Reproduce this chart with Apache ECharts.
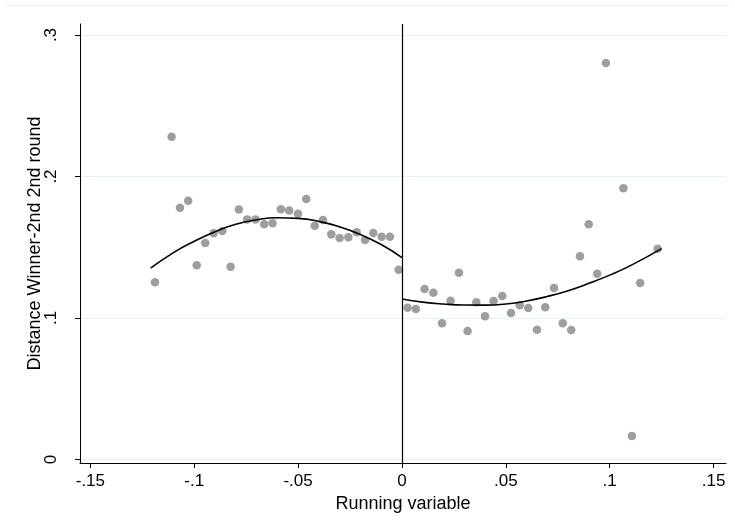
<!DOCTYPE html>
<html>
<head>
<meta charset="utf-8">
<script src="https://cdn.jsdelivr.net/npm/echarts@6/dist/echarts.min.js"></script>
<style>
html,body{margin:0;padding:0;background:#fff;}
#chart{width:735px;height:520px;}
</style>
</head>
<body>
<div id="chart"></div>
<script>
// Binned scatter, left of cutoff
const leftX = [-0.1189, -0.1109, -0.1069, -0.1029, -0.0988, -0.0947, -0.0907, -0.0865, -0.0825, -0.0785, -0.0745, -0.0705, -0.0663, -0.0623, -0.0583, -0.0543, -0.0501, -0.0461, -0.0420, -0.0380, -0.0340, -0.0300, -0.0258, -0.0218, -0.0178, -0.0138, -0.0098, -0.0058, -0.0016];
const leftY = [0.1252, 0.2281, 0.1780, 0.1829, 0.1372, 0.1530, 0.1599, 0.1615, 0.1363, 0.1766, 0.1697, 0.1697, 0.1662, 0.1669, 0.1768, 0.1759, 0.1737, 0.1841, 0.1652, 0.1693, 0.1591, 0.1565, 0.1570, 0.1606, 0.1551, 0.1601, 0.1575, 0.1575, 0.1341];
// Binned scatter, right of cutoff
const rightX = [0.0027, 0.0067, 0.0109, 0.0151, 0.0193, 0.0234, 0.0274, 0.0316, 0.0358, 0.0400, 0.0441, 0.0483, 0.0525, 0.0567, 0.0608, 0.0650, 0.0690, 0.0732, 0.0774, 0.0815, 0.0857, 0.0899, 0.0940, 0.0982, 0.1066, 0.1107, 0.1147, 0.1231];
const rightY = [0.1073, 0.1064, 0.1205, 0.1179, 0.0962, 0.1122, 0.1320, 0.0908, 0.1111, 0.1012, 0.1120, 0.1155, 0.1035, 0.1090, 0.1071, 0.0917, 0.1076, 0.1212, 0.0962, 0.0915, 0.1436, 0.1662, 0.1313, 0.2802, 0.1917, 0.0166, 0.1247, 0.1490];
// Fitted curves
const leftFitX = [-0.121, -0.11, -0.10, -0.09, -0.08, -0.07, -0.06, -0.05, -0.04, -0.03, -0.02, -0.01, 0];
const leftFitY = [0.1352, 0.1462, 0.1542, 0.1610, 0.1662, 0.1694, 0.1708, 0.1704, 0.1683, 0.1644, 0.1590, 0.1519, 0.1427];
const rightFitX = [0, 0.01, 0.02, 0.03, 0.04, 0.05, 0.06, 0.07, 0.08, 0.09, 0.10, 0.11, 0.125];
const rightFitY = [0.1134, 0.1112, 0.1099, 0.1092, 0.1091, 0.1099, 0.1120, 0.1152, 0.1193, 0.1245, 0.1303, 0.1370, 0.1490];
// Tick values
const xTicks = [-0.15, -0.1, -0.05, 0, 0.05, 0.1, 0.15];
const yTicks = [0, 0.1, 0.2, 0.3];

const zip = (xs, ys) => xs.map((x, i) => [x, ys[i]]);
const fmt = v => {
  if (Math.abs(v) < 1e-9) return '0';
  const s = String(+v.toFixed(4));
  return s.replace('0.', '.');
};
const FONT = 'Liberation Sans, Arial, sans-serif';
const chart = echarts.init(document.getElementById('chart'), null, {renderer: 'canvas'});
chart.setOption({
  animation: false,
  backgroundColor: '#ffffff',
  graphic: [{
    type: 'line', shape: {x1: 5, y1: 5.5, x2: 730, y2: 5.5},
    style: {stroke: '#eef2f3', lineWidth: 1}, silent: true
  }],
  grid: {left: 80, right: 9, top: 24, bottom: 57, containLabel: false},
  xAxis: {
    type: 'value', min: -0.155, max: 0.156,
    name: 'Running variable', nameLocation: 'middle', nameGap: 27,
    nameTextStyle: {color: '#000', fontSize: 18, fontFamily: FONT},
    axisLine: {show: true, onZero: false, lineStyle: {color: '#000', width: 1}},
    axisTick: {show: true, length: 5, customValues: xTicks, lineStyle: {color: '#000'}},
    axisLabel: {customValues: xTicks, formatter: fmt, color: '#000', fontSize: 17, fontFamily: FONT, margin: 10},
    splitLine: {show: false}
  },
  yAxis: {
    type: 'value', min: -0.0025, max: 0.3078,
    name: 'Distance Winner-2nd 2nd round', nameLocation: 'middle', nameGap: 36, nameRotate: 90,
    nameMoveOverlap: false,
    nameTextStyle: {color: '#000', fontSize: 18, fontFamily: FONT},
    axisLine: {show: true, onZero: false, lineStyle: {color: '#000', width: 1}},
    axisTick: {show: true, length: 5, customValues: yTicks, lineStyle: {color: '#000'}},
    axisLabel: {customValues: yTicks, formatter: fmt, rotate: 90, color: '#000', fontSize: 17, fontFamily: FONT, margin: 20},
    splitLine: {show: true, lineStyle: {color: '#e9f0f1', width: 1}}
  },
  series: [
    {
      type: 'scatter', data: zip(leftX, leftY), symbol: 'circle', symbolSize: 8.5,
      itemStyle: {color: '#9e9e9e', opacity: 1}, z: 3
    },
    {
      type: 'scatter', data: zip(rightX, rightY), symbol: 'circle', symbolSize: 8.5,
      itemStyle: {color: '#9e9e9e', opacity: 1}, z: 3
    },
    {
      type: 'line', data: zip(leftFitX, leftFitY), smooth: true, showSymbol: false, symbol: 'none',
      lineStyle: {color: '#000', width: 1.6}, z: 4,
      markLine: {
        silent: true, symbol: ['none', 'none'], label: {show: false},
        lineStyle: {color: '#000', width: 1.2, type: 'solid'},
        data: [{xAxis: 0}]
      }
    },
    {
      type: 'line', data: zip(rightFitX, rightFitY), smooth: true, showSymbol: false, symbol: 'none',
      lineStyle: {color: '#000', width: 1.6}, z: 4
    }
  ]
});
</script>
</body>
</html>
